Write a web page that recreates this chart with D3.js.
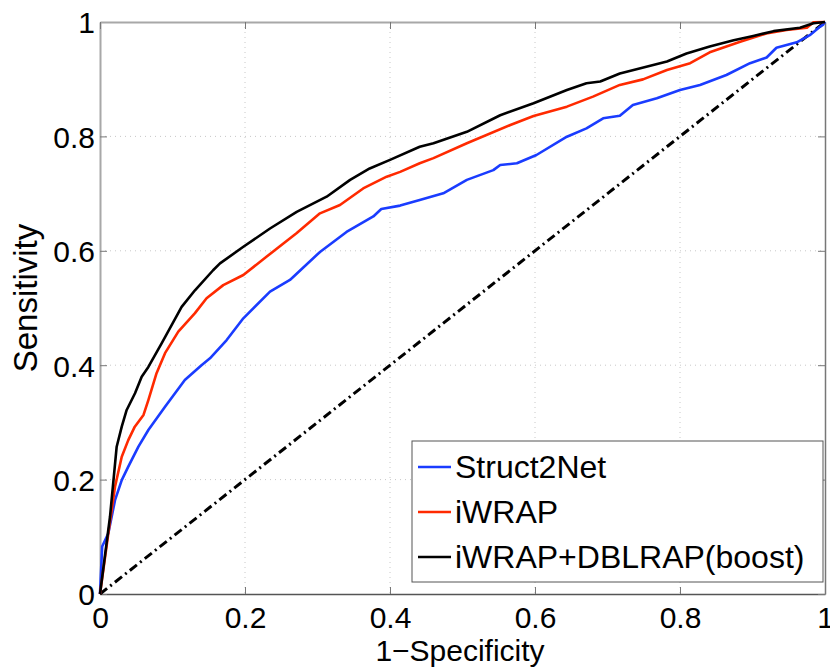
<!DOCTYPE html>
<html><head><meta charset="utf-8">
<script src="https://cdn.jsdelivr.net/npm/d3@7"></script>
<style>body{margin:0;background:#fff}svg{display:block}text{font-family:"Liberation Sans",Arial,sans-serif}</style>
</head><body>
<svg id="c" width="830" height="667"></svg>
<script>
const seriesNames = ["Struct2Net","iWRAP","iWRAP+DBLRAP(boost)"];
const seriesColors = ["#1a3cff","#ff2a00","#000000"];
const xTicks = [0,0.2,0.4,0.6,0.8,1];
const yTicks = [0,0.2,0.4,0.6,0.8,1];
const tickLabels = ["0","0.2","0.4","0.6","0.8","1"];

const struct2net = [[0,0],[0.003,0.083],[0.0115,0.106],[0.0207,0.164],[0.030,0.199],[0.039,0.2226],[0.053,0.2575],[0.0667,0.2867],[0.0897,0.3275],[0.117,0.374],[0.140,0.400],[0.1517,0.412],[0.1747,0.444],[0.1977,0.482],[0.2345,0.5285],[0.262,0.549],[0.3034,0.598],[0.340,0.633],[0.377,0.660],[0.388,0.673],[0.414,0.679],[0.441,0.689],[0.4735,0.7005],[0.506,0.724],[0.5425,0.741],[0.552,0.750],[0.575,0.753],[0.602,0.7675],[0.644,0.7995],[0.671,0.814],[0.694,0.8317],[0.717,0.836],[0.735,0.855],[0.768,0.8666],[0.800,0.881],[0.8276,0.890],[0.864,0.9074],[0.8966,0.928],[0.9195,0.938],[0.933,0.955],[0.961,0.9645],[0.979,0.977],[0.993,0.9915],[0.997,0.995],[1,1]];
const iwrap = [[0,0],[0.0115,0.106],[0.0207,0.1876],[0.030,0.240],[0.039,0.269],[0.048,0.2925],[0.060,0.313],[0.0667,0.339],[0.078,0.386],[0.0897,0.421],[0.108,0.4586],[0.131,0.491],[0.147,0.517],[0.170,0.540],[0.1977,0.5577],[0.230,0.590],[0.271,0.6306],[0.3034,0.6655],[0.331,0.680],[0.363,0.709],[0.3954,0.7296],[0.414,0.738],[0.441,0.753],[0.46,0.762],[0.506,0.788],[0.566,0.8199],[0.598,0.8357],[0.644,0.852],[0.680,0.8695],[0.717,0.890],[0.749,0.8997],[0.782,0.916],[0.814,0.928],[0.841,0.947],[0.883,0.9656],[0.919,0.980],[0.947,0.986],[0.975,0.990],[0.984,0.9995],[1,1]];
const boost = [[0,0],[0.0138,0.135],[0.023,0.2575],[0.030,0.2925],[0.0368,0.3217],[0.0483,0.351],[0.0575,0.380],[0.0667,0.397],[0.085,0.438],[0.1126,0.502],[0.131,0.531],[0.156,0.566],[0.1655,0.578],[0.1977,0.607],[0.2345,0.639],[0.2713,0.668],[0.3126,0.6946],[0.345,0.724],[0.372,0.744],[0.4,0.759],[0.441,0.782],[0.46,0.788],[0.506,0.808],[0.552,0.837],[0.598,0.858],[0.644,0.881],[0.671,0.893],[0.690,0.896],[0.717,0.910],[0.782,0.931],[0.809,0.945],[0.841,0.957],[0.874,0.968],[0.901,0.9755],[0.929,0.984],[0.9655,0.990],[0.984,0.9977],[1,1]];
const diagonal = [[0,0],[1,1]];
const seriesData = [struct2net, iwrap, boost];

const L=100,R=825,T=22,B=594;
const svg=d3.select("#c");
const x=d3.scaleLinear().domain([0,1]).range([L,R]);
const y=d3.scaleLinear().domain([0,1]).range([B,T]);

// grid
const g=svg.append("g");
xTicks.slice(1,-1).forEach(t=>g.append("line").attr("x1",x(t)).attr("x2",x(t)).attr("y1",T).attr("y2",B).attr("stroke","#c8c8c8").attr("stroke-dasharray","1,4").attr("stroke-width",1));
yTicks.slice(1,-1).forEach(t=>g.append("line").attr("y1",y(t)).attr("y2",y(t)).attr("x1",L).attr("x2",R).attr("stroke","#c8c8c8").attr("stroke-dasharray","1,4").attr("stroke-width",1));

// axes with inward ticks
const xb=svg.append("g").attr("transform",`translate(0,${B})`).call(d3.axisBottom(x).tickValues(xTicks).tickFormat(d=>tickLabels[xTicks.indexOf(d)]).tickSizeInner(-7).tickSizeOuter(0).tickPadding(12));
const yl=svg.append("g").attr("transform",`translate(${L},0)`).call(d3.axisLeft(y).tickValues(yTicks).tickFormat(d=>tickLabels[yTicks.indexOf(d)]).tickSizeInner(-7).tickSizeOuter(0).tickPadding(5));
const xt=svg.append("g").attr("transform",`translate(0,${T})`).call(d3.axisTop(x).tickValues(xTicks).tickFormat("").tickSizeInner(-7).tickSizeOuter(0));
const yr=svg.append("g").attr("transform",`translate(${R},0)`).call(d3.axisRight(y).tickValues(yTicks).tickFormat("").tickSizeInner(-7).tickSizeOuter(0));
[xb,yl].forEach(a=>a.selectAll("text").attr("font-size",30).attr("fill","#000").style("font-family","Liberation Sans, Arial, sans-serif"));
xb.selectAll("text").attr("dy","0.72em");
yl.selectAll("text").attr("dy","0.36em");
xb.select(".domain").attr("stroke","#555").attr("stroke-width",1.5);
yr.select(".domain").attr("stroke","#777").attr("stroke-width",1.5);
yl.select(".domain").attr("stroke","#a8a8a8").attr("stroke-width",2);
xt.select(".domain").attr("stroke","#a8a8a8").attr("stroke-width",2);
[xb,yl,xt,yr].forEach(a=>a.selectAll(".tick line").attr("stroke","#777").attr("stroke-width",1));

// diagonal
const line=d3.line().x(d=>x(d[0])).y(d=>y(d[1]));
svg.append("path").datum(diagonal).attr("d",line).attr("fill","none").attr("stroke","#000").attr("stroke-width",3).attr("stroke-dasharray","9,4,2,4");

// series
seriesData.forEach((s,i)=>svg.append("path").datum(s).attr("d",line).attr("fill","none").attr("stroke",seriesColors[i]).attr("stroke-width",2.6).attr("stroke-linejoin","round"));

// labels
svg.append("text").attr("x",460).attr("y",661).attr("text-anchor","middle").attr("font-size",30).text("1−Specificity");
svg.append("text").attr("transform","translate(37,298) rotate(-90)").attr("text-anchor","middle").attr("font-size",33).text("Sensitivity");

// legend
const lg=svg.append("g");
lg.append("rect").attr("x",412).attr("y",441).attr("width",411).attr("height",141).attr("fill","#fff").attr("stroke","#555").attr("stroke-width",1);
seriesNames.forEach((n,i)=>{
  const yy=467+i*45;
  lg.append("line").attr("x1",418).attr("x2",451).attr("y1",yy).attr("y2",yy).attr("stroke",seriesColors[i]).attr("stroke-width",2.6);
  lg.append("text").attr("x",455).attr("y",yy+11).attr("font-size",32).text(n);
});
</script>
</body></html>
